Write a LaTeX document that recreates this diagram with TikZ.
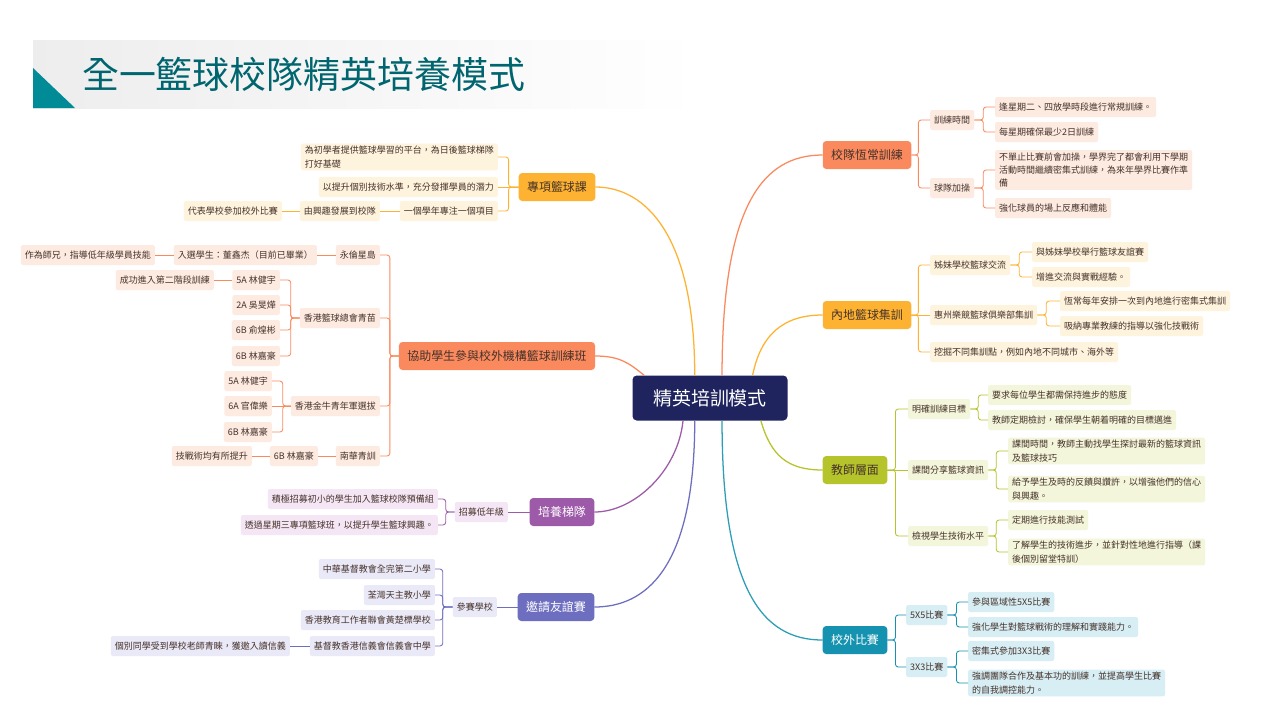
\documentclass[tikz,border=0pt]{standalone}
\usepackage{fontspec}
\setmainfont{Noto Sans CJK TC}
\usetikzlibrary{positioning}
\definecolor{navy}{HTML}{1F235E}
\definecolor{coral}{HTML}{FA8A5E}
\definecolor{amber}{HTML}{FDB331}
\definecolor{lime}{HTML}{B6C42C}
\definecolor{sea}{HTML}{1592AF}
\definecolor{plum}{HTML}{9D5AA8}
\definecolor{iris}{HTML}{6E6EC0}
\definecolor{coralpale}{HTML}{FDEAE1}
\definecolor{amberpale}{HTML}{FEF3DD}
\definecolor{limepale}{HTML}{F3F6DA}
\definecolor{seapale}{HTML}{D7EEF5}
\definecolor{plumpale}{HTML}{F4E6F4}
\definecolor{irispale}{HTML}{E9E9F7}
\definecolor{ink}{HTML}{46322A}
\definecolor{titleteal}{HTML}{00656F}
\definecolor{wedge}{HTML}{008B96}

\begin{document}
\begin{tikzpicture}[x=0.05cm,y=-0.05cm,
  sub/.style={rounded corners=3pt,minimum height=1cm,inner xsep=0.2cm,inner ysep=0.12cm,font=\fontsize{12.8}{19}\selectfont,text=ink,align=left},
  branch/.style={rounded corners=5pt,minimum height=1.4cm,inner xsep=0.42cm,font=\fontsize{17}{20}\selectfont,text=ink},
  link/.style={line width=1.2pt,rounded corners=4pt},
  stem/.style={line width=1.8pt}]
\useasboundingbox (0,0) rectangle (1280,720);
\fill[white] (0,0) rectangle (1280,720);
\shade[left color=black!7,right color=white] (33,40) rectangle (700,108);
\fill[wedge] (33,68) -- (75,108) -- (33,108) -- cycle;
\node[anchor=west,inner sep=0pt,font=\fontsize{52.5}{58}\selectfont,text=titleteal] (title) at (82,75) {全一籃球校隊精英培養模式};

\node[rounded corners=6pt,fill=navy,text=white,minimum width=7.75cm,minimum height=2.25cm,font=\fontsize{27}{30}\selectfont] (core) at (710,398) {精英培訓模式};

\node[branch,fill=coral] (team) at (867,155) {校隊恆常訓練};
\node[branch,fill=amber] (mainland) at (867,315) {內地籃球集訓};
\node[branch,fill=lime] (teacher) at (855,470) {教師層面};
\node[branch,fill=sea,text=white] (match) at (855,640) {校外比賽};
\node[branch,fill=amber] (course) at (557,187) {專項籃球課};
\node[branch,fill=coral] (outside) at (497,356) {協助學生參與校外機構籃球訓練班};
\node[branch,fill=plum,text=white] (ladder) at (562,512) {培養梯隊};
\node[branch,fill=iris,text=white] (friendly) at (556,607) {邀請友誼賽};

\node[sub,fill=coralpale,anchor=west] (team1) at (930,120) {訓練時間};
\node[sub,fill=coralpale,anchor=west] (team2) at (930,188) {球隊加操};
\node[sub,fill=coralpale,anchor=west] (team11) at (995,107) {逢星期二、四放學時段進行常規訓練。};
\node[sub,fill=coralpale,anchor=west] (team12) at (995,132) {每星期確保最少2日訓練};
\node[sub,fill=coralpale,anchor=west] (team21) at (995,170) {不單止比賽前會加操，學界完了都會利用下學期\\活動時間繼續密集式訓練，為來年學界比賽作準\\備};
\node[sub,fill=coralpale,anchor=west] (team22) at (995,208) {強化球員的場上反應和體能};

\node[sub,fill=amberpale,anchor=west] (land1) at (930,265) {姊妹學校籃球交流};
\node[sub,fill=amberpale,anchor=west] (land2) at (930,315) {惠州樂競籃球俱樂部集訓};
\node[sub,fill=amberpale,anchor=west] (land3) at (930,352) {挖掘不同集訓點，例如內地不同城市、海外等};
\node[sub,fill=amberpale,anchor=west] (land11) at (1032,252) {與姊妹學校舉行籃球友誼賽};
\node[sub,fill=amberpale,anchor=west] (land12) at (1032,277) {增進交流與實戰經驗。};
\node[sub,fill=amberpale,anchor=west] (land21) at (1060,301) {恆常每年安排一次到內地進行密集式集訓};
\node[sub,fill=amberpale,anchor=west] (land22) at (1060,326) {吸納專業教練的指導以強化技戰術};

\node[sub,fill=limepale,anchor=west] (tch1) at (908,409) {明確訓練目標};
\node[sub,fill=limepale,anchor=west] (tch2) at (908,470) {課間分享籃球資訊};
\node[sub,fill=limepale,anchor=west] (tch3) at (908,536) {檢視學生技術水平};
\node[sub,fill=limepale,anchor=west] (tch11) at (988,395) {要求每位學生都需保持進步的態度};
\node[sub,fill=limepale,anchor=west] (tch12) at (988,420) {教師定期檢討，確保學生朝着明確的目標邁進};
\node[sub,fill=limepale,anchor=west] (tch21) at (1008,451) {課間時間，教師主動找學生探討最新的籃球資訊\\及籃球技巧};
\node[sub,fill=limepale,anchor=west] (tch22) at (1008,489) {給予學生及時的反饋與讚許，以增強他們的信心\\與興趣。};
\node[sub,fill=limepale,anchor=west] (tch31) at (1008,520) {定期進行技能測試};
\node[sub,fill=limepale,anchor=west] (tch32) at (1008,552) {了解學生的技術進步，並針對性地進行指導（課\\後個別留堂特訓）};

\node[sub,fill=seapale,anchor=west] (cmp1) at (906,615) {5X5比賽};
\node[sub,fill=seapale,anchor=west] (cmp2) at (906,667) {3X3比賽};
\node[sub,fill=seapale,anchor=west] (cmp11) at (968,602) {參與區域性5X5比賽};
\node[sub,fill=seapale,anchor=west] (cmp12) at (968,627) {強化學生對籃球戰術的理解和實踐能力。};
\node[sub,fill=seapale,anchor=west] (cmp21) at (968,651) {密集式參加3X3比賽};
\node[sub,fill=seapale,anchor=west] (cmp22) at (968,683) {強調團隊合作及基本功的訓練，並提高學生比賽\\的自我調控能力。};

\node[sub,fill=amberpale,anchor=east] (crs1) at (498,157) {為初學者提供籃球學習的平台，為日後籃球梯隊\\打好基礎};
\node[sub,fill=amberpale,anchor=east] (crs2) at (498,187) {以提升個別技術水準，充分發揮學員的潛力};
\node[sub,fill=amberpale,anchor=east] (crs3) at (498,211) {一個學年專注一個項目};
\node[sub,fill=amberpale,anchor=east] (crs31) at (380,211) {由興趣發展到校隊};
\node[sub,fill=amberpale,anchor=east] (crs311) at (282,211) {代表學校參加校外比賽};

\node[sub,fill=coralpale,anchor=east] (out1) at (380,255) {永倫星島};
\node[sub,fill=coralpale,anchor=east] (out11) at (317,255) {入選學生：董鑫杰（目前已畢業）};
\node[sub,fill=coralpale,anchor=east] (out111) at (155,255) {作為師兄，指導低年級學員技能};
\node[sub,fill=coralpale,anchor=east] (out2) at (380,318) {香港籃球總會青苗};
\node[sub,fill=coralpale,anchor=east] (out21) at (280,280) {5A 林健宇};
\node[sub,fill=coralpale,anchor=east] (out211) at (214,280) {成功進入第二階段訓練};
\node[sub,fill=coralpale,anchor=east] (out22) at (280,305) {2A 吳旻燁};
\node[sub,fill=coralpale,anchor=east] (out23) at (280,330) {6B 俞煌彬};
\node[sub,fill=coralpale,anchor=east] (out24) at (280,356) {6B 林嘉豪};
\node[sub,fill=coralpale,anchor=east] (out3) at (380,406) {香港金牛青年軍選拔};
\node[sub,fill=coralpale,anchor=east] (out31) at (272,381) {5A 林健宇};
\node[sub,fill=coralpale,anchor=east] (out32) at (272,406) {6A 官偉樂};
\node[sub,fill=coralpale,anchor=east] (out33) at (272,432) {6B 林嘉豪};
\node[sub,fill=coralpale,anchor=east] (out4) at (380,456) {南華青訓};
\node[sub,fill=coralpale,anchor=east] (out41) at (318,456) {6B 林嘉豪};
\node[sub,fill=coralpale,anchor=east] (out411) at (252,456) {技戰術均有所提升};

\node[sub,fill=plumpale,anchor=east] (lad1) at (508,512) {招募低年級};
\node[sub,fill=plumpale,anchor=east] (lad11) at (438,499) {積極招募初小的學生加入籃球校隊預備組};
\node[sub,fill=plumpale,anchor=east] (lad12) at (438,525) {透過星期三專項籃球班，以提升學生籃球興趣。};

\node[sub,fill=irispale,anchor=east] (fr1) at (497,607) {參賽學校};
\node[sub,fill=irispale,anchor=east] (fr11) at (435,569) {中華基督教會全完第二小學};
\node[sub,fill=irispale,anchor=east] (fr12) at (435,595) {荃灣天主教小學};
\node[sub,fill=irispale,anchor=east] (fr13) at (435,620) {香港教育工作者聯會黃楚標學校};
\node[sub,fill=irispale,anchor=east] (fr14) at (435,646) {基督教香港信義會信義會中學};
\node[sub,fill=irispale,anchor=east] (fr141) at (290,646) {個別同學受到學校老師青睞，獲邀入讀信義};

\draw[stem,coral] (core.62) .. controls +(0,-170) and +(-60,0) .. (team.west);
\draw[stem,amber] (core.28) .. controls +(8,-40) and +(-40,0) .. (mainland.west);
\draw[stem,lime] (core.336) .. controls +(10,35) and +(-35,0) .. (teacher.west);
\draw[stem,sea!90] (core.298) .. controls +(0,170) and +(-60,0) .. (match.west);
\draw[stem,amber] (core.124) .. controls +(0,-140) and +(50,0) .. (course.east);
\draw[stem,coral] (core.161) .. controls +(-15,-12) and +(25,0) .. (outside.east);
\draw[stem,plum] (core.220) .. controls +(-5,50) and +(40,0) .. (ladder.east);
\draw[stem,iris] (core.236) .. controls +(0,150) and +(50,0) .. (friendly.east);

\draw[link,coral] (team.east) -- ++(7,0) |- (team1.west);
\draw[link,coral] (team.east) -- ++(7,0) |- (team2.west);
\draw[link,coral] (team1.east) -- ++(9,0) |- (team11.west);
\draw[link,coral] (team1.east) -- ++(9,0) |- (team12.west);
\draw[link,coral] (team2.east) -- ++(9,0) |- (team21.west);
\draw[link,coral] (team2.east) -- ++(9,0) |- (team22.west);

\draw[link,amber] (mainland.east) -- ++(7,0) |- (land1.west);
\draw[link,amber] (mainland.east) -- (land2.west);
\draw[link,amber] (mainland.east) -- ++(7,0) |- (land3.west);
\draw[link,amber] (land1.east) -- ++(9,0) |- (land11.west);
\draw[link,amber] (land1.east) -- ++(9,0) |- (land12.west);
\draw[link,amber] (land2.east) -- ++(9,0) |- (land21.west);
\draw[link,amber] (land2.east) -- ++(9,0) |- (land22.west);

\draw[link,lime] (teacher.east) -- ++(8,0) |- (tch1.west);
\draw[link,lime] (teacher.east) -- (tch2.west);
\draw[link,lime] (teacher.east) -- ++(8,0) |- (tch3.west);
\draw[link,lime] (tch1.east) -- ++(8,0) |- (tch11.west);
\draw[link,lime] (tch1.east) -- ++(8,0) |- (tch12.west);
\draw[link,lime] (tch2.east) -- ++(8,0) |- (tch21.west);
\draw[link,lime] (tch2.east) -- ++(8,0) |- (tch22.west);
\draw[link,lime] (tch3.east) -- ++(8,0) |- (tch31.west);
\draw[link,lime] (tch3.east) -- ++(8,0) |- (tch32.west);

\draw[link,sea] (match.east) -- ++(8,0) |- (cmp1.west);
\draw[link,sea] (match.east) -- ++(8,0) |- (cmp2.west);
\draw[link,sea] (cmp1.east) -- ++(9,0) |- (cmp11.west);
\draw[link,sea] (cmp1.east) -- ++(9,0) |- (cmp12.west);
\draw[link,sea] (cmp2.east) -- ++(9,0) |- (cmp21.west);
\draw[link,sea] (cmp2.east) -- ++(9,0) |- (cmp22.west);

\draw[link,amber] (course.west) -- ++(-10,0) |- (crs1.east);
\draw[link,amber] (course.west) -- (crs2.east);
\draw[link,amber] (course.west) -- ++(-10,0) |- (crs3.east);
\draw[link,amber] (crs3.west) -- (crs31.east);
\draw[link,amber] (crs31.west) -- (crs311.east);

\draw[link,coral] (outside.west) -- ++(-9,0) |- (out1.east);
\draw[link,coral] (outside.west) -- ++(-9,0) |- (out2.east);
\draw[link,coral] (outside.west) -- ++(-9,0) |- (out3.east);
\draw[link,coral] (outside.west) -- ++(-9,0) |- (out4.east);
\draw[link,coral] (out1.west) -- (out11.east);
\draw[link,coral] (out11.west) -- (out111.east);
\draw[link,coral] (out2.west) -- ++(-9,0) |- (out21.east);
\draw[link,coral] (out2.west) -- ++(-9,0) |- (out22.east);
\draw[link,coral] (out2.west) -- ++(-9,0) |- (out23.east);
\draw[link,coral] (out2.west) -- ++(-9,0) |- (out24.east);
\draw[link,coral] (out21.west) -- (out211.east);
\draw[link,coral] (out3.west) -- ++(-8,0) |- (out31.east);
\draw[link,coral] (out3.west) -- (out32.east);
\draw[link,coral] (out3.west) -- ++(-8,0) |- (out33.east);
\draw[link,coral] (out4.west) -- (out41.east);
\draw[link,coral] (out41.west) -- (out411.east);

\draw[link,plum] (ladder.west) -- (lad1.east);
\draw[link,plum] (lad1.west) -- ++(-9,0) |- (lad11.east);
\draw[link,plum] (lad1.west) -- ++(-9,0) |- (lad12.east);

\draw[link,iris] (friendly.west) -- (fr1.east);
\draw[link,iris] (fr1.west) -- ++(-10,0) |- (fr11.east);
\draw[link,iris] (fr1.west) -- ++(-10,0) |- (fr12.east);
\draw[link,iris] (fr1.west) -- ++(-10,0) |- (fr13.east);
\draw[link,iris] (fr1.west) -- ++(-10,0) |- (fr14.east);
\draw[link,iris] (fr14.west) -- (fr141.east);
\end{tikzpicture}
\end{document}
